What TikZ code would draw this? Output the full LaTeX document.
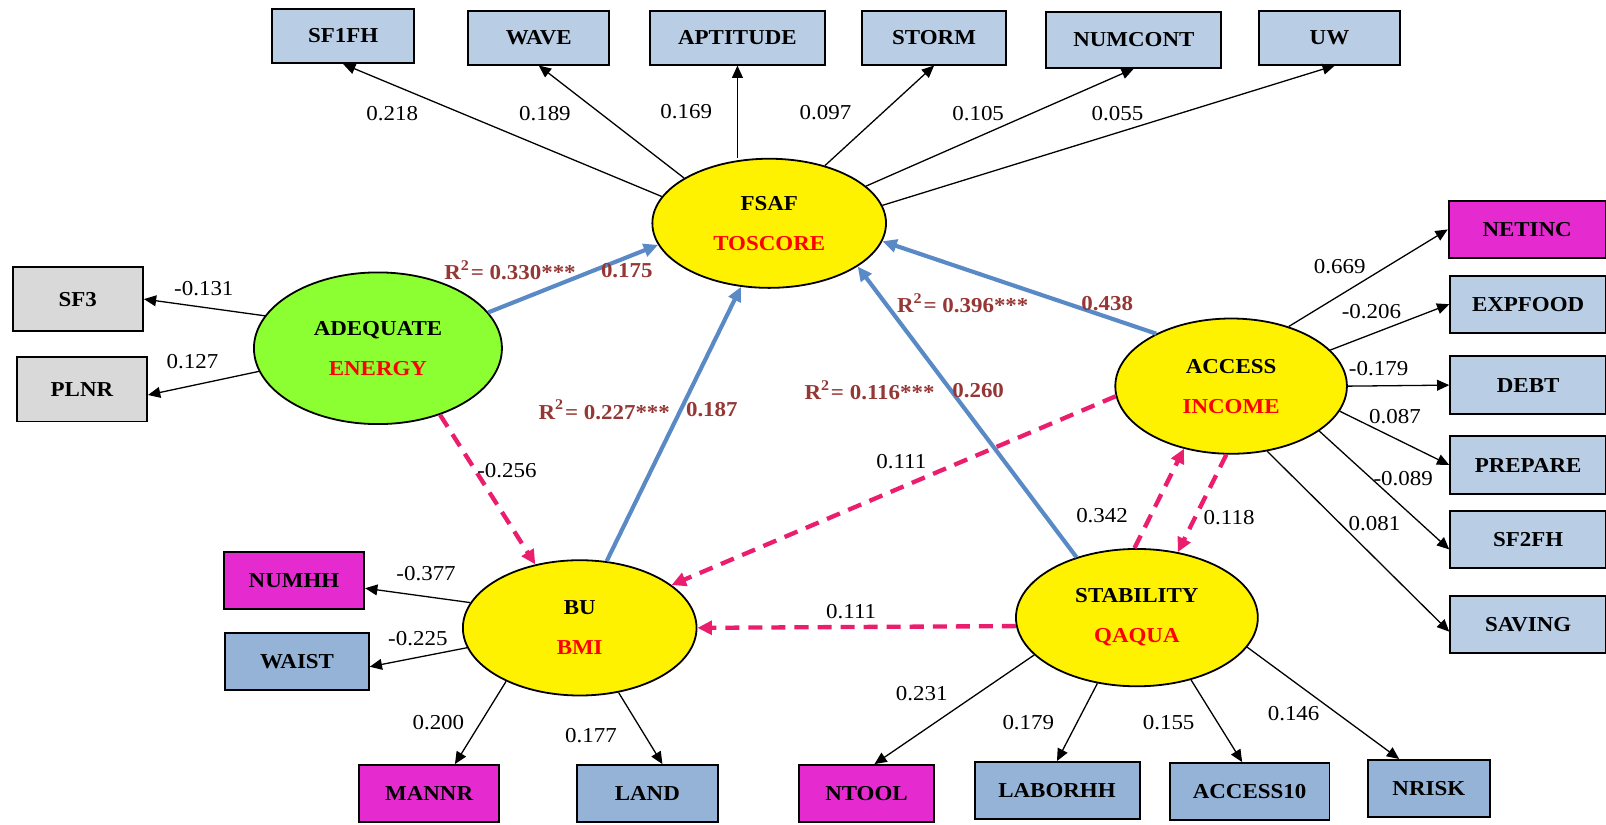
\documentclass[tikz,border=0pt]{standalone}
\usepackage{fontspec}
\setmainfont{Liberation Serif}[FakeStretch=1.08]
\usetikzlibrary{%
  arrows.meta,
  shapes.geometric
}

\definecolor{boxblue}{HTML}{B9CDE5}
\definecolor{boxdeep}{HTML}{95B3D7}
\definecolor{boxgrey}{HTML}{D9D9D9}
\definecolor{boxpink}{HTML}{E52BD0}
\definecolor{latgreen}{HTML}{8CFF32}
\definecolor{pathblue}{HTML}{5A8AC6}
\definecolor{crosspink}{HTML}{EB1E6E}
\definecolor{rsqred}{HTML}{953735}

\tikzset{
  indbox/.style={draw, line width=0.55pt, fill=boxblue, inner sep=0pt,
    minimum width=1.38cm, minimum height=0.56cm,
    font=\fontsize{5.9}{7}\selectfont\bfseries},
  latent/.style={ellipse, draw, line width=0.5pt, fill=yellow, inner sep=0pt,
    align=center, font=\fontsize{5.9}{7}\selectfont\bfseries},
  loading/.style={-{Triangle[length=3.4pt,width=3pt]}, line width=0.36pt},
  structural/.style={-{Triangle[length=4pt,width=3.6pt]}, line width=1.15pt,
    draw=pathblue},
  crosslink/.style={-{Triangle[length=4pt,width=3.8pt]}, line width=1.2pt,
    draw=crosspink, dash pattern=on 3.9pt off 2.5pt},
  coef/.style={font=\fontsize{5.9}{7}\selectfont, inner sep=0pt},
  rsq/.style={font=\fontsize{5.9}{7}\selectfont\bfseries, text=rsqred,
    inner sep=0pt}
}

\begin{document}
\begin{tikzpicture}[x=0.01cm, y=-0.01cm]

  \useasboundingbox (0,0) rectangle (1568,805);

  % latent constructs
  \node[latent, minimum width=2.28cm, minimum height=1.26cm] (fsaf) at (751,218)
    {FSAF\\[4.1pt]\textcolor{red}{TOSCORE}};
  \node[latent, fill=latgreen, minimum width=2.42cm, minimum height=1.48cm]
    (adequate) at (369,340) {ADEQUATE\\[4.1pt]\textcolor{red}{ENERGY}};
  \node[latent, minimum width=2.26cm, minimum height=1.32cm] (access) at (1202,377)
    {ACCESS\\[4.1pt]\textcolor{red}{INCOME}};
  \node[latent, minimum width=2.28cm, minimum height=1.32cm] (bu) at (566,613)
    {BU\\[4.1pt]\textcolor{red}{BMI}};
  \node[latent, minimum width=2.36cm, minimum height=1.34cm] (stability)
    at (1110,603) {STABILITY\\[4.1pt]\textcolor{red}{QAQUA}};

  % indicators, top row
  \node[indbox, minimum width=1.39cm, minimum height=0.53cm] (sf1fh) at (335,35) {SF1FH};
  \node[indbox, minimum height=0.52cm] (wave) at (526,37) {WAVE};
  \node[indbox, minimum width=1.70cm, minimum height=0.52cm] (aptitude) at (720,37) {APTITUDE};
  \node[indbox, minimum width=1.40cm, minimum height=0.52cm] (storm) at (912,37) {STORM};
  \node[indbox, minimum width=1.71cm, minimum height=0.54cm] (numcont) at (1107,39) {NUMCONT};
  \node[indbox, minimum height=0.52cm] (uw) at (1298,37) {UW};

  % indicators, right column
  \node[indbox, fill=boxpink, minimum width=1.53cm] (netinc) at (1491,224) {NETINC};
  \node[indbox, minimum width=1.52cm] (expfood) at (1492,297) {EXPFOOD};
  \node[indbox, minimum width=1.52cm] (debt) at (1492,376) {DEBT};
  \node[indbox, minimum width=1.52cm] (prepare) at (1492,454) {PREPARE};
  \node[indbox, minimum width=1.52cm] (sf2fh) at (1492,527) {SF2FH};
  \node[indbox, minimum width=1.52cm] (saving) at (1492,610) {SAVING};

  % indicators, left
  \node[indbox, fill=boxgrey, minimum width=1.27cm, minimum height=0.63cm] (sf3) at (76,292) {SF3};
  \node[indbox, fill=boxgrey, minimum width=1.27cm, minimum height=0.63cm] (plnr) at (80,380) {PLNR};
  \node[indbox, fill=boxpink, minimum width=1.37cm] (numhh) at (287,567) {NUMHH};
  \node[indbox, fill=boxdeep, minimum width=1.40cm] (waist) at (290,646) {WAIST};

  % indicators, bottom row
  \node[indbox, fill=boxpink, minimum width=1.37cm] (mannr) at (419,775) {MANNR};
  \node[indbox, fill=boxdeep, minimum width=1.37cm] (land) at (632,775) {LAND};
  \node[indbox, fill=boxpink, minimum width=1.31cm] (ntool) at (846,775) {NTOOL};
  \node[indbox, fill=boxdeep, minimum width=1.61cm] (laborhh) at (1032,772) {LABORHH};
  \node[indbox, fill=boxdeep, minimum width=1.56cm] (access10) at (1220,773) {ACCESS10};
  \node[indbox, fill=boxdeep, minimum width=1.19cm] (nrisk) at (1395,770) {NRISK};

  % loadings
  \draw[loading] (fsaf.166) -- (sf1fh.south);
  \draw[loading] (fsaf.152) -- (wave.south);
  \draw[loading] (aptitude.south |- fsaf.north) -- (aptitude.south);
  \draw[loading] (fsaf.46) -- (storm.south);
  \draw[loading] (fsaf.21) -- (numcont.south);
  \draw[loading] (fsaf.9) -- (uw.-79);

  \draw[loading] (adequate.164.5) -- (sf3.east);
  \draw[loading] (adequate.191) -- (plnr.-5);

  \draw[loading] (access.46.5) -- (netinc.west);
  \draw[loading] (access.20.5) -- (expfood.west);
  \draw[loading] (access.east) -- (debt.west);
  \draw[loading] (access.-13) -- (prepare.west);
  \draw[loading] (access.-27) -- (sf2fh.187);
  \draw[loading] (access.-61) -- (saving.185);

  \draw[loading] (bu.167.5) -- (numhh.-6.5);
  \draw[loading] (bu.190) -- (waist.-4);
  \draw[loading] (bu.216) -- (mannr.49);
  \draw[loading] (bu.-59) -- (land.63);

  \draw[loading] (stability.200) -- (ntool.75);
  \draw[loading] (stability.239.5) -- (laborhh.north);
  \draw[loading] (stability.-49) -- (access10.104);
  \draw[loading] (stability.-15.6) -- (nrisk.135);

  % structural paths
  \draw[structural] (adequate.18.6) -- (fsaf.191);
  \draw[structural] (bu.68) -- (fsaf.246);
  \draw[structural] (access.145) -- (fsaf.-9);
  \draw[structural] (stability.135) -- (fsaf.-26);

  \draw[crosslink] (adequate.-47) -- (bu.125);
  \draw[crosslink] (access.185) -- (bu.25);
  \draw[crosslink] (stability.184) -- (bu.east);
  \draw[crosslink] (stability.92.5) -- (access.233);
  \draw[crosslink] (access.266) -- (stability.58);

  % coefficients
  \node[coef] (lsf1fh) at (383,111) {0.218};
  \node[coef] (lwave) at (532,111) {0.189};
  \node[coef] (laptitude) at (670,109) {0.169};
  \node[coef] (lstorm) at (806,110) {0.097};
  \node[coef] (lnumcont) at (955,111) {0.105};
  \node[coef] (luw) at (1091,111) {0.055};

  \node[coef] (lsf3) at (199,282) {-0.131};
  \node[coef] (lplnr) at (188,353) {0.127};

  \node[coef] (lnetinc) at (1308,260) {0.669};
  \node[coef] (lexpfood) at (1339,304) {-0.206};
  \node[coef] (ldebt) at (1346,360) {-0.179};
  \node[coef] (lprepare) at (1362,407) {0.087};
  \node[coef] (lsf2fh) at (1370,467) {-0.089};
  \node[coef] (lsaving) at (1342,511) {0.081};

  \node[coef] (lnumhh) at (416,560) {-0.377};
  \node[coef] (lwaist) at (408,623) {-0.225};
  \node[coef] (lmannr) at (428,705) {0.200};
  \node[coef] (lland) at (577,718) {0.177};

  \node[coef] (lntool) at (900,677) {0.231};
  \node[coef] (llaborhh) at (1004,705) {0.179};
  \node[coef] (laccess10) at (1141,705) {0.155};
  \node[coef] (lnrisk) at (1263,697) {0.146};

  \node[coef] (ladequbu) at (495,459) {-0.256};
  \node[coef] (laccbu) at (880,451) {0.111};
  \node[coef] (lstabbu) at (831,597) {0.111};
  \node[coef] (lstabacc) at (1076,503) {0.342};
  \node[coef] (laccstab) at (1200,505) {0.118};

  \node[rsq] (radequ) at (498,264) {R\textsuperscript{2}= 0.330***};
  \node[rsq] (padequ) at (612,264) {0.175};
  \node[rsq] (rbu) at (590,400) {R\textsuperscript{2}= 0.227***};
  \node[rsq] (pbu) at (695,400) {0.187};
  \node[rsq] (raccess) at (940,296) {R\textsuperscript{2}= 0.396***};
  \node[rsq] (paccess) at (1081,296) {0.438};
  \node[rsq] (rstab) at (849,381) {R\textsuperscript{2}= 0.116***};
  \node[rsq] (pstab) at (955,381) {0.260};
\end{tikzpicture}
\end{document}
